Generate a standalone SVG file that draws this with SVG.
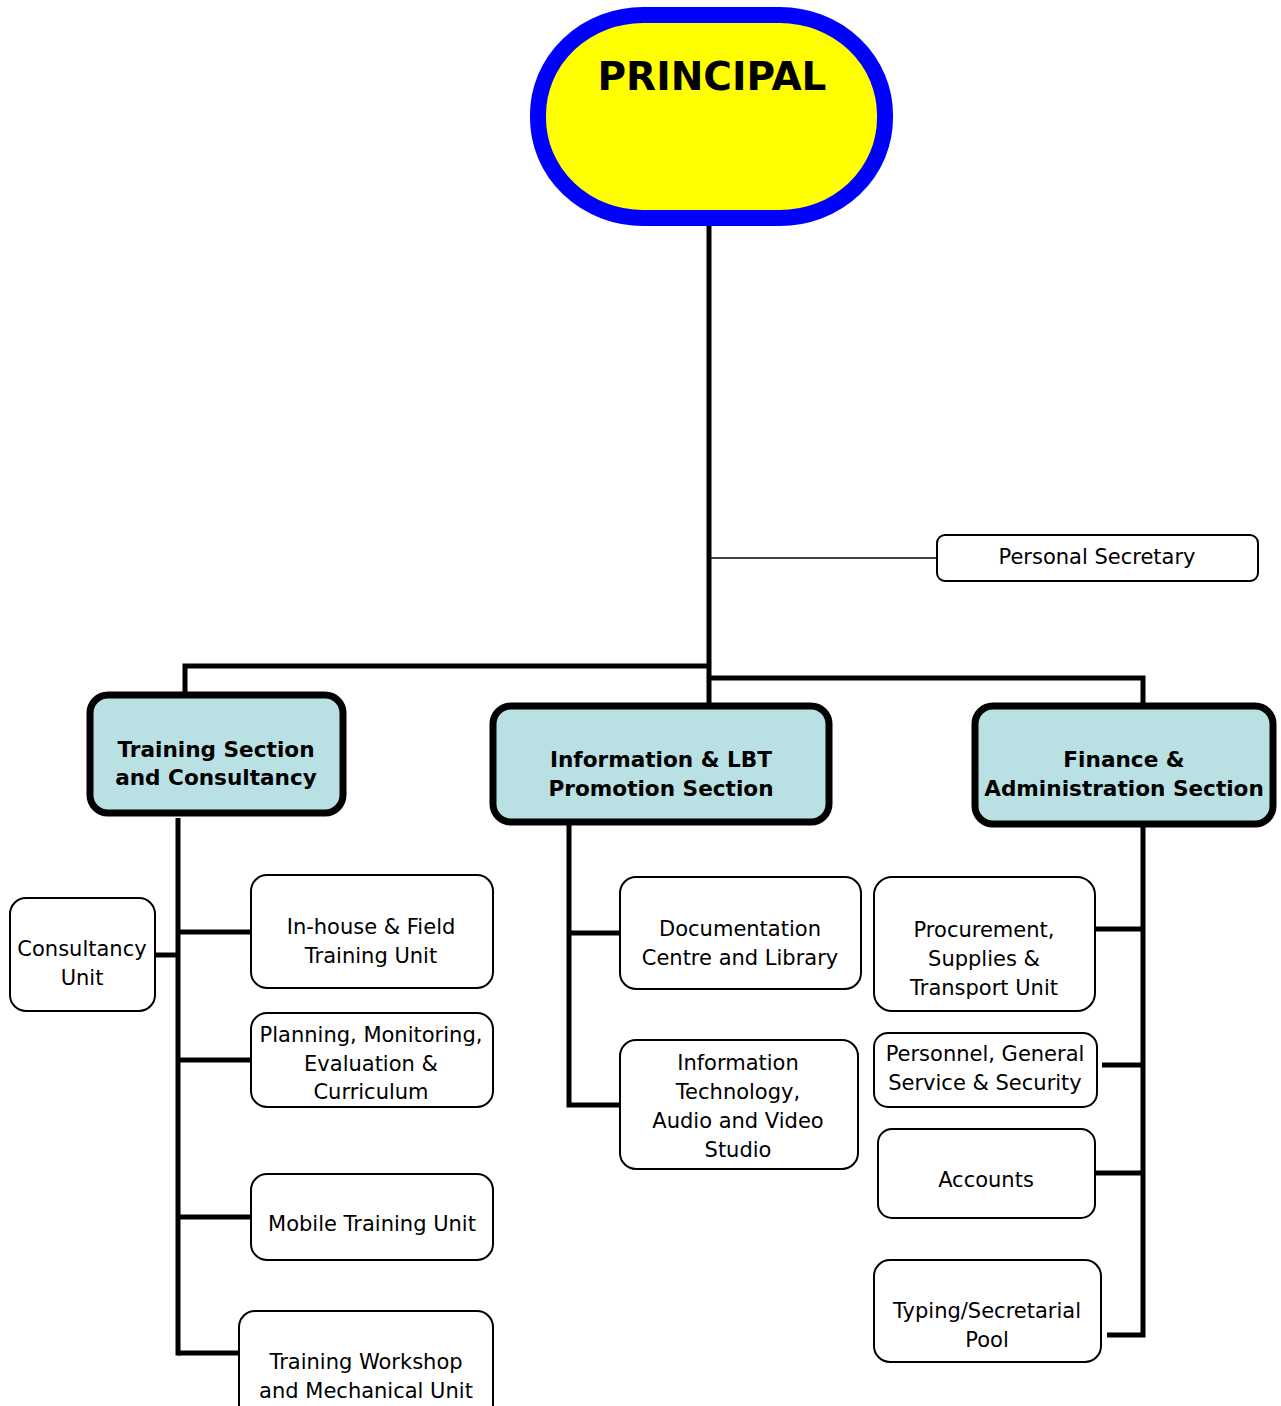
<svg xmlns="http://www.w3.org/2000/svg" width="1281" height="1406" viewBox="0 0 1281 1406">
<style>
.unit{fill:#fff;stroke:#000;stroke-width:2}
.sec{fill:#B9E0E3;stroke:#000;stroke-width:7}
.t{font-family:"DejaVu Sans","Verdana",sans-serif;font-size:21px;fill:#000;text-anchor:middle}
.b{font-family:"DejaVu Sans","Verdana",sans-serif;font-size:21.6px;font-weight:bold;fill:#000;text-anchor:middle}
.c{fill:none;stroke:#000;stroke-width:5}
</style>
<rect width="1281" height="1406" fill="#fff"/>
<g id="connectors">
<line class="c" x1="709" y1="224" x2="709" y2="705"/>
<line x1="711" y1="558" x2="938" y2="558" stroke="#000" stroke-width="1.5"/>
<polyline class="c" points="185,694 185,666 709,666"/>
<polyline class="c" points="709,678 1143,678 1143,705"/>
<line class="c" x1="178" y1="818" x2="178" y2="1355.5"/>
<line class="c" x1="178" y1="932" x2="252" y2="932"/>
<line class="c" x1="154" y1="955" x2="178" y2="955"/>
<line class="c" x1="178" y1="1060" x2="252" y2="1060"/>
<line class="c" x1="178" y1="1217" x2="252" y2="1217"/>
<polyline class="c" points="178,1353 240,1353"/>
<polyline class="c" points="569,824 569,1105 621,1105"/>
<line class="c" x1="569" y1="933" x2="621" y2="933"/>
<polyline class="c" points="1143,826 1143,1335 1107,1335"/>
<line class="c" x1="1095" y1="929" x2="1143" y2="929"/>
<line class="c" x1="1102" y1="1065" x2="1143" y2="1065"/>
<line class="c" x1="1095" y1="1173" x2="1143" y2="1173"/>
</g>
<g id="principal">
<rect x="538" y="15" width="347" height="203" rx="105" ry="100" fill="#FFFF00" stroke="#0000FF" stroke-width="16"/>
<text x="712" y="90" font-family="DejaVu Sans,Verdana,sans-serif" font-size="39" font-weight="bold" text-anchor="middle">PRINCIPAL</text>
</g>
<g id="personal-secretary">
<rect class="unit" x="937" y="535" width="321" height="46" rx="8"/>
<text class="t" x="1097" y="564">Personal Secretary</text>
</g>
<g id="training-section">
<rect class="sec" x="90" y="695" width="253" height="118" rx="18"/>
<text class="b" x="216" y="757">Training Section</text>
<text class="b" x="216" y="785">and Consultancy</text>
</g>
<g id="info-section">
<rect class="sec" x="493" y="706" width="336" height="116" rx="18"/>
<text class="b" x="661" y="767">Information &amp; LBT</text>
<text class="b" x="661" y="796">Promotion Section</text>
</g>
<g id="finance-section">
<rect class="sec" x="975" y="706" width="298" height="118" rx="18"/>
<text class="b" x="1124" y="767">Finance &amp;</text>
<text class="b" x="1124" y="796">Administration Section</text>
</g>
<g id="consultancy-unit">
<rect class="unit" x="10" y="898" width="145" height="113" rx="16"/>
<text class="t" x="82" y="956">Consultancy</text>
<text class="t" x="82" y="985">Unit</text>
</g>
<g id="inhouse-unit">
<rect class="unit" x="251" y="875" width="242" height="113" rx="16"/>
<text class="t" x="371" y="934">In-house &amp; Field</text>
<text class="t" x="371" y="963">Training Unit</text>
</g>
<g id="planning-unit">
<rect class="unit" x="251" y="1013" width="242" height="94" rx="16"/>
<text class="t" x="371" y="1042">Planning, Monitoring,</text>
<text class="t" x="371" y="1071">Evaluation &amp;</text>
<text class="t" x="371" y="1099">Curriculum</text>
</g>
<g id="mobile-unit">
<rect class="unit" x="251" y="1174" width="242" height="86" rx="16"/>
<text class="t" x="372" y="1231">Mobile Training Unit</text>
</g>
<g id="workshop-unit">
<rect class="unit" x="239" y="1311" width="254" height="110" rx="16"/>
<text class="t" x="366" y="1369">Training Workshop</text>
<text class="t" x="366" y="1398">and Mechanical Unit</text>
</g>
<g id="documentation-unit">
<rect class="unit" x="620" y="877" width="241" height="112" rx="16"/>
<text class="t" x="740" y="936">Documentation</text>
<text class="t" x="740" y="965">Centre and Library</text>
</g>
<g id="it-unit">
<rect class="unit" x="620" y="1040" width="238" height="129" rx="16"/>
<text class="t" x="738" y="1070">Information</text>
<text class="t" x="738" y="1099">Technology,</text>
<text class="t" x="738" y="1128">Audio and Video</text>
<text class="t" x="738" y="1157">Studio</text>
</g>
<g id="procurement-unit">
<rect class="unit" x="874" y="877" width="221" height="134" rx="18"/>
<text class="t" x="984" y="937">Procurement,</text>
<text class="t" x="984" y="966">Supplies &amp;</text>
<text class="t" x="984" y="995">Transport Unit</text>
</g>
<g id="personnel-unit">
<rect class="unit" x="874" y="1033" width="223" height="74" rx="14"/>
<text class="t" x="985" y="1061">Personnel, General</text>
<text class="t" x="985" y="1090">Service &amp; Security</text>
</g>
<g id="accounts-unit">
<rect class="unit" x="878" y="1129" width="217" height="89" rx="14"/>
<text class="t" x="986" y="1187">Accounts</text>
</g>
<g id="typing-unit">
<rect class="unit" x="874" y="1260" width="227" height="102" rx="16"/>
<text class="t" x="987" y="1318">Typing/Secretarial</text>
<text class="t" x="987" y="1347">Pool</text>
</g>
</svg>
